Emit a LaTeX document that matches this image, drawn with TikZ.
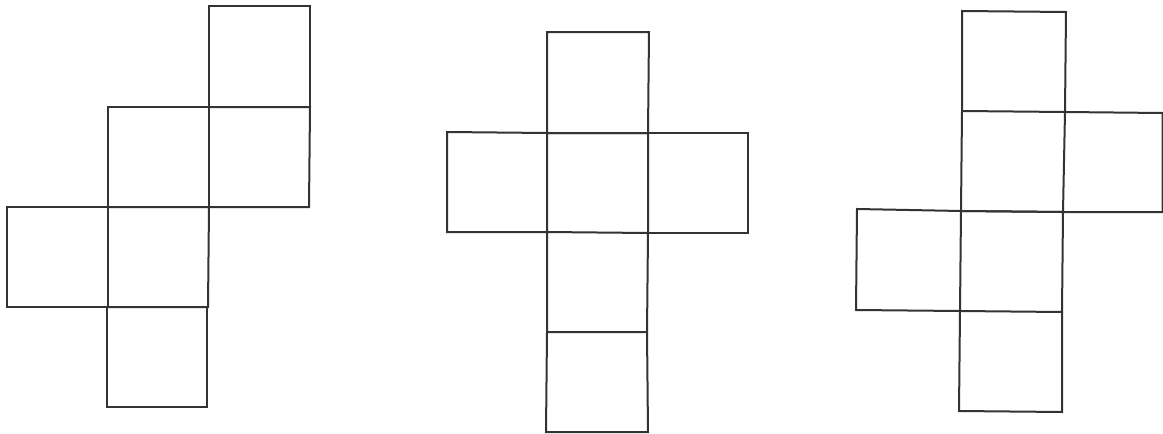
\documentclass[tikz,border=0pt]{standalone}
\begin{document}
\begin{tikzpicture}[x=1pt,y=-1pt,
  net/.style={draw=black!80, line width=2pt, line join=miter}]
\useasboundingbox (0,0) rectangle (1163,434);
% Net 1
\draw[net] (209,6) -- (310,6) -- (310,107) -- (209,107) -- cycle;
\draw[net] (108,107) -- (209,107) -- (209,207) -- (108,207) -- cycle;
\draw[net] (209,107) -- (310,107) -- (309,207) -- (209,207);
\draw[net] (7,207) -- (108,207) -- (108,307) -- (7,307) -- cycle;
\draw[net] (108,207) -- (209,207) -- (208,307) -- (108,307);
\draw[net] (107,307) -- (207,307) -- (207,407) -- (107,407) -- cycle;
% Net 2
\draw[net] (547,32) -- (649,32) -- (648,133) -- (547,133) -- cycle;
\draw[net] (447,132) -- (547,133) -- (547,232) -- (447,232) -- cycle;
\draw[net] (547,133) -- (648,133) -- (648,233) -- (547,232);
\draw[net] (648,133) -- (748,133) -- (748,233) -- (648,233);
\draw[net] (547,232) -- (547,332) -- (647,332) -- (648,233);
\draw[net] (547,332) -- (546,432) -- (648,432) -- (647,332);
% Net 3
\draw[net] (962,11) -- (1066,12) -- (1065,112) -- (962,111) -- cycle;
\draw[net] (962,111) -- (961,211) -- (1063,212) -- (1065,112);
\draw[net] (1065,112) -- (1162.5,113) -- (1162.5,212) -- (1063,212);
\draw[net] (857,209) -- (961,211) -- (960,311) -- (856,310) -- cycle;
\draw[net] (961,211) -- (1063,212) -- (1062,312) -- (960,311);
\draw[net] (960,311) -- (959,411) -- (1062,412) -- (1062,312);
\end{tikzpicture}
\end{document}
